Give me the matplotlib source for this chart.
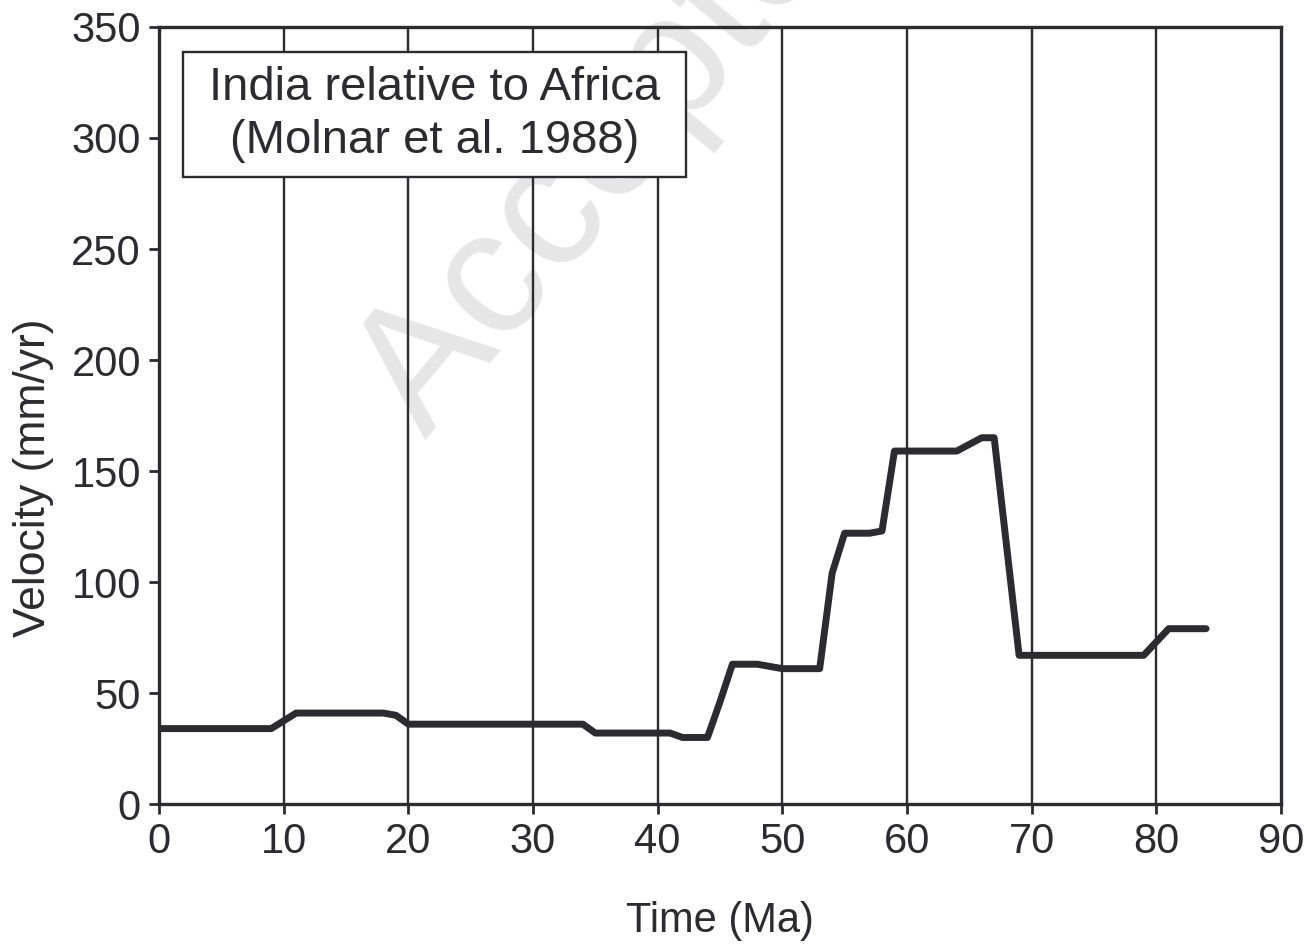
import matplotlib
matplotlib.use("Agg")
import matplotlib.pyplot as plt
from matplotlib.patches import Rectangle

# India relative to Africa velocity (Molnar et al. 1988)
time_ma = [0, 9, 11, 18, 19, 20, 34, 35, 41, 42, 44, 45, 46, 48, 50, 53,
           54, 55, 57, 58, 59, 64, 66, 67, 69, 79, 81, 84]
velocity = [34, 34, 41, 41, 40, 36, 36, 32, 32, 30, 30, 46, 63, 63, 61, 61,
            104, 122, 122, 123, 159, 159, 165, 165, 67, 67, 79, 79]

x_ticks = list(range(0, 91, 10))
y_ticks = list(range(0, 351, 50))
grid_x = list(range(10, 90, 10))

dark = "#2b2b30"
plt.rcParams["font.family"] = ["Liberation Sans", "DejaVu Sans"]
plt.rcParams["text.color"] = dark
plt.rcParams["axes.labelcolor"] = dark
plt.rcParams["xtick.color"] = dark
plt.rcParams["ytick.color"] = dark

fig = plt.figure(figsize=(13.09, 9.46), dpi=100)
ax = fig.add_axes([0.1215, 0.150, 0.857, 0.8215])

# watermark, behind everything in the axes
ax.text(0.325, 0.535, "Accepted", transform=fig.transFigure, fontsize=128,
        color="#e6e6e6", rotation=50, rotation_mode="anchor",
        ha="left", va="baseline", zorder=0.5, clip_on=False)

for gx in grid_x:
    ax.axvline(gx, color=dark, lw=1.7, zorder=1)

ax.plot(time_ma, velocity, color=dark, lw=5, zorder=3,
        solid_joinstyle="round", solid_capstyle="round")

ax.set_xlim(0, 90)
ax.set_ylim(0, 350)
ax.set_xticks(x_ticks)
ax.set_yticks(y_ticks)
ax.tick_params(labelsize=30, length=7, width=2, direction="out", pad=6)
for s in ax.spines.values():
    s.set_linewidth(2.4)
    s.set_color(dark)
    s.set_zorder(4)

ax.set_xlabel("Time (Ma)", fontsize=30, labelpad=28)
ax.set_ylabel("Velocity (mm/yr)", fontsize=32)
ax.yaxis.set_label_coords(-0.094, 0.42)

# label box
ax.add_patch(Rectangle((0.0214, 0.807), 0.4483, 0.161, transform=ax.transAxes,
                       fc="white", ec=dark, lw=1.7, zorder=5))
ax.text(0.2455, 0.906, "India relative to Africa", transform=ax.transAxes,
        fontsize=34, ha="center", va="baseline", zorder=6)
ax.text(0.2455, 0.838, "(Molnar et al. 1988)", transform=ax.transAxes,
        fontsize=34, ha="center", va="baseline", zorder=6)

fig.savefig("out.png", dpi=100)
